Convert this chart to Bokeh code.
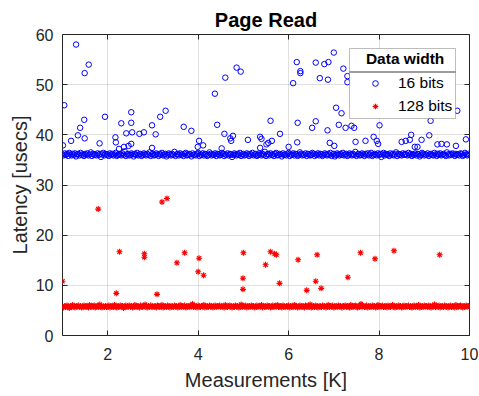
import numpy as np
from bokeh.plotting import figure
from bokeh.models import (Range1d, FixedTicker, Legend, LegendItem, BoxAnnotation,
                          LinearAxis, CustomJSTickFormatter, ColumnDataSource)
from bokeh.embed import file_html
from bokeh.resources import INLINE

# ---------------- data ----------------
title_text = "Page Read"
x_label = "Measurements [K]"
y_label = "Latency [usecs]"
legend_title = "Data width"
series_names = ["16 bits", "128 bits"]
x_ticks = [2, 4, 6, 8, 10]
y_ticks = [0, 10, 20, 30, 40, 50, 60]

# dense baseline measurements (sampled every 0.025 K)
blue_band = [
    36.1, 35.9, 36.3, 36.0, 36.2, 35.8, 36.4, 36.1, 35.9, 36.2, 36.0, 36.3, 35.7, 36.1, 36.2, 35.9, 36.4, 36.0, 36.1,
    35.8, 36.2, 36.0, 36.3, 35.9, 36.1, 36.5, 35.8, 36.2, 36.0, 36.1, 35.9, 36.3, 36.0, 36.2, 35.6, 36.1, 36.4, 35.9,
    36.2, 36.0, 36.1, 35.8, 36.3, 36.0, 36.2, 35.9, 36.1, 36.4, 35.8, 36.0, 36.2, 36.1, 35.9, 36.3, 36.0, 36.7, 35.8,
    36.1, 36.2, 35.9, 36.0, 36.3, 36.1, 35.7, 36.2, 36.0, 36.4, 35.9, 36.1, 36.2, 35.8, 36.0, 36.3, 36.1, 35.9, 36.2,
    36.0, 36.5, 35.8, 36.1, 36.2, 35.9, 36.0, 36.3, 36.1, 35.8, 36.2, 36.0, 36.4, 35.9, 36.1, 36.2, 35.7, 36.0, 36.3,
    36.1, 35.9, 36.2, 36.0, 36.6, 35.8, 36.1, 36.2, 35.9, 36.3, 36.0, 36.1, 35.8, 36.2, 36.4, 35.9, 36.0, 36.2, 36.1,
    35.7, 36.3, 36.0, 36.1, 35.9, 36.2, 36.4, 35.8, 36.1, 36.0, 36.3, 35.9, 36.2, 36.1, 35.8, 36.0, 36.5, 36.2, 35.9,
    36.1, 36.0, 36.3, 35.8, 36.2, 36.1, 35.9, 36.0, 36.4, 36.2, 35.8, 36.1, 36.0, 36.3, 35.9, 36.2, 36.1, 35.6, 36.0,
    36.3, 36.1, 35.9, 36.2, 36.0, 36.4, 35.8, 36.1, 36.2, 35.9, 36.0, 36.3, 36.1, 35.8, 36.2, 36.0, 36.4, 35.9, 36.1,
    36.2, 35.8, 36.0, 36.3, 36.1, 35.9, 36.2, 36.0, 36.6, 35.8, 36.1, 36.2, 35.9, 36.3, 36.0, 36.1, 35.8, 36.2, 36.4,
    35.9, 36.0, 36.2, 36.1, 35.7, 36.3, 36.0, 36.1, 35.9, 36.2, 36.4, 35.8, 36.1, 36.0, 36.3, 35.9, 36.2, 36.1, 35.8,
    36.0, 36.5, 36.2, 35.9, 36.1, 36.0, 36.3, 35.8, 36.2, 36.1, 35.9, 36.0, 36.4, 36.2, 35.8, 36.1, 36.0, 36.3, 35.9,
    36.2, 36.1, 35.8, 36.0, 36.3, 36.1, 35.9, 36.2, 36.0, 36.4, 35.8, 36.1, 36.2, 35.7, 36.0, 36.3, 36.1, 35.9, 36.2,
    36.0, 36.4, 35.9, 36.1, 36.2, 35.8, 36.0, 36.3, 36.1, 35.9, 36.2, 36.0, 36.6, 35.8, 36.1, 36.2, 35.9, 36.0, 36.3,
    36.1, 35.8, 36.2, 36.0, 36.3, 35.9, 36.1, 36.4, 35.8, 36.0, 36.2, 36.1, 35.9, 36.3, 36.0, 36.2, 35.6, 36.1, 36.4,
    35.9, 36.2, 36.0, 36.1, 35.8, 36.3, 36.0, 36.2, 35.9, 36.1, 36.5, 35.8, 36.2, 36.0, 36.1, 35.9, 36.3, 36.0, 36.2,
    36.1, 35.9, 36.4, 36.0, 36.2, 35.8, 36.1, 36.0, 36.3, 35.9, 36.2, 36.1, 35.7, 36.0, 36.4, 36.2, 35.9, 36.1, 36.0,
    36.3, 35.8, 36.1, 36.2, 36.0, 35.9, 36.4, 36.1, 35.8, 36.2, 36.0, 36.3, 35.9, 36.1, 36.2, 36.0, 35.8, 36.5, 36.1,
    35.9, 36.2, 36.0, 36.3, 36.1, 35.8, 36.2, 36.0, 36.1, 35.9, 36.3, 36.2, 35.8, 36.0, 36.4, 36.1, 35.9, 36.2, 36.0,
]
red_band = [
    5.8, 5.6, 5.9, 5.7, 6.0, 5.8, 5.5, 5.9, 5.7, 6.1, 5.8, 5.6, 5.9, 5.8, 6.0, 5.7, 5.9, 5.6, 5.8,
    6.0, 5.7, 5.9, 5.8, 5.6, 6.1, 5.8, 5.7, 5.9, 6.0, 5.6, 5.8, 5.9, 5.7, 6.2, 5.8, 5.6, 5.9, 5.7,
    5.9, 5.7, 5.8, 6.0, 5.6, 5.9, 5.8, 5.7, 6.1, 5.8, 5.6, 5.9, 5.7, 6.0, 5.8, 5.9, 5.5, 5.8, 6.0,
    5.7, 5.8, 6.0, 5.7, 5.9, 5.6, 5.8, 6.1, 5.7, 5.9, 5.8, 5.6, 6.0, 5.8, 5.7, 5.9, 6.2, 5.8, 5.6,
    5.9, 5.7, 6.0, 5.8, 5.7, 5.9, 5.8, 5.6, 6.0, 5.9, 5.7, 5.8, 6.1, 5.6, 5.8, 5.9, 5.7, 6.0, 5.8,
    5.6, 5.9, 5.8, 5.7, 6.0, 5.8, 5.9, 5.6, 5.8, 6.1, 5.7, 5.9, 5.8, 6.0, 5.6, 5.8, 5.9, 5.7, 6.0,
    5.8, 6.3, 5.7, 5.9, 5.8, 5.6, 6.0, 5.8, 5.7, 5.9, 5.8, 6.1, 5.6, 5.9, 5.8, 5.7, 6.0, 5.8, 5.9,
    5.6, 5.8, 6.0, 5.7, 5.9, 5.8, 6.0, 5.7, 5.9, 5.8, 5.6, 6.1, 5.8, 5.7, 5.9, 6.0, 5.8, 5.6, 5.9,
    5.7, 6.0, 5.8, 5.9, 5.6, 5.8, 6.2, 5.7, 5.9, 5.8, 6.0, 5.6, 5.8, 5.9, 5.7, 6.0, 5.8, 5.9, 5.6,
    5.8, 6.0, 5.7, 5.9, 5.8, 6.1, 5.6, 5.9, 5.8, 5.7, 6.0, 5.8, 5.9, 5.6, 5.8, 6.0, 5.7, 5.9, 5.8,
    6.1, 5.7, 5.8, 5.9, 5.6, 6.0, 5.8, 5.7, 5.9, 5.8, 6.0, 5.6, 5.9, 5.8, 5.7, 6.1, 5.8, 5.9, 5.6,
    5.8, 6.0, 5.7, 5.9, 5.8, 5.6, 6.0, 5.9, 5.7, 5.8, 6.2, 5.6, 5.8, 5.9, 5.7, 6.0, 5.8, 5.6, 5.9,
    5.8, 5.7, 6.0, 5.8, 5.9, 5.6, 5.8, 6.1, 5.7, 5.9, 5.8, 6.0, 5.6, 5.8, 5.9, 5.7, 6.0, 5.8, 5.9,
    5.6, 5.9, 5.8, 6.0, 5.7, 5.9, 5.8, 5.6, 6.1, 5.8, 5.7, 5.9, 6.0, 5.8, 5.6, 5.9, 5.7, 6.3, 5.8,
    5.9, 5.7, 5.8, 6.0, 5.6, 5.9, 5.8, 5.7, 6.0, 5.8, 5.9, 5.6, 5.8, 6.1, 5.7, 5.9, 5.8, 6.0, 5.7,
    5.8, 5.9, 5.6, 6.0, 5.8, 5.7, 5.9, 6.1, 5.8, 5.6, 5.9, 5.7, 6.0, 5.8, 5.9, 5.6, 5.8, 6.0, 5.7,
    5.9, 5.8, 6.0, 5.7, 5.9, 5.6, 5.8, 6.0, 5.7, 5.9, 5.8, 6.1, 5.6, 5.8, 5.9, 5.7, 6.0, 5.8, 5.9,
    5.7, 6.0, 5.8, 5.6, 5.9, 5.8, 6.2, 5.7, 5.9, 5.8, 6.0, 5.6, 5.8, 5.9, 5.7, 6.0, 5.8, 5.9, 5.6,
    5.8, 6.0, 5.7, 5.9, 5.8, 5.6, 6.1, 5.8, 5.7, 5.9, 6.0, 5.8, 5.6, 5.9, 5.7, 6.0, 5.8, 5.9, 5.7,
]
blue_band_x = np.linspace(1.0, 10.0, len(blue_band))
red_band_x = np.linspace(1.0, 10.0, len(red_band))

# outlier measurements
blue_out_x = [1.01, 1.04, 1.19, 1.30, 1.34, 1.39, 1.48, 1.49, 1.49, 1.58, 1.82, 1.94, 2.17, 2.18, 2.25,
              2.30, 2.36, 2.41, 2.46, 2.52, 2.52, 2.52, 2.54, 2.70, 2.80, 2.98, 2.98, 3.06, 3.16, 3.28,
              3.68, 3.85, 3.99, 4.02, 4.11, 4.37, 4.42, 4.52, 4.58, 4.60, 4.71, 4.73, 4.77, 4.85, 4.94,
              5.10, 5.37, 5.37, 5.40, 5.51, 5.55, 5.60, 5.63, 5.81, 6.00, 6.10, 6.18, 6.19, 6.20, 6.26,
              6.26, 6.52, 6.60, 6.60, 6.69, 6.79, 6.86, 6.87, 6.88, 6.91, 7.00, 7.01, 7.05, 7.11, 7.17,
              7.21, 7.26, 7.30, 7.30, 7.39, 7.45, 7.48, 7.70, 7.88, 7.95, 7.98, 8.01, 8.50, 8.59, 8.68,
              8.71, 8.79, 8.85, 8.94, 9.11, 9.14, 9.29, 9.38, 9.50, 9.70, 9.73, 9.92]
blue_out_y = [37.9, 45.9, 38.8, 58.0, 39.9, 41.4, 43.0, 39.3, 52.3, 54.0, 38.3, 43.6, 39.5, 38.5, 37.2,
              42.3, 37.6, 40.3, 37.8, 44.5, 42.4, 38.2, 40.5, 40.2, 40.5, 41.9, 37.4, 40.1, 43.6, 44.8,
              41.6, 40.8, 37.6, 38.8, 37.9, 48.2, 42.0, 37.3, 40.2, 51.4, 39.3, 38.8, 39.8, 53.4, 52.6,
              39.0, 39.6, 37.4, 39.2, 38.1, 38.4, 42.8, 38.8, 40.2, 37.6, 50.3, 54.5, 38.5, 42.4, 52.7,
              52.3, 41.4, 54.4, 42.7, 51.3, 54.1, 40.9, 51.0, 54.5, 38.4, 56.4, 37.8, 45.4, 42.0, 44.3,
              53.2, 41.4, 51.7, 50.5, 41.8, 41.4, 38.6, 38.8, 39.6, 38.8, 38.2, 41.9, 38.6, 38.8, 39.0,
              40.0, 37.6, 37.6, 39.0, 39.9, 42.8, 38.1, 38.2, 38.1, 37.8, 44.8, 39.1]
red_out_x = [1.00, 1.79, 2.19, 2.26, 2.81, 2.81, 3.09, 3.20, 3.31, 3.53, 3.70, 4.00, 4.02, 4.12, 4.99,
             4.99, 5.00, 5.49, 5.60, 5.69, 5.73, 5.80, 6.21, 6.40, 6.60, 6.63, 6.72, 7.31, 7.59, 7.91,
             8.33, 9.34]
red_out_y = [10.8, 25.2, 8.4, 16.7, 16.3, 15.6, 8.2, 26.6, 27.3, 14.5, 16.5, 12.7, 15.4, 12.0, 11.4,
             9.2, 16.5, 14.1, 16.7, 16.3, 16.1, 10.4, 15.1, 9.0, 10.8, 16.1, 9.4, 11.6, 16.5, 15.3,
             16.9, 16.1]

# ---------------- figure ----------------
FONT = "Liberation Sans"
AX = "#262626"
X0, X1, Y0, Y1 = 1, 10, 0, 60
FRAME_W, FRAME_H = 479 - 62 - 10, 396 - 34 - 61

p = figure(width=479, height=396, output_backend="svg", toolbar_location=None,
           x_range=Range1d(X0, X1), y_range=Range1d(Y0, Y1),
           min_border_left=62, min_border_right=10, min_border_top=34, min_border_bottom=61)
p.background_fill_color = "white"
p.border_fill_color = "white"
p.outline_line_color = AX
p.outline_line_width = 1

p.title.text = title_text
p.title.align = "center"
p.title.text_font = FONT
p.title.text_font_size = "20px"
p.title.text_font_style = "bold"
p.title.text_color = "#000000"
p.title.standoff = 7

for ax in (p.xaxis[0], p.yaxis[0]):
    ax.axis_line_color = None
    ax.major_tick_in = 5
    ax.major_tick_out = 0
    ax.minor_tick_line_color = None
    ax.major_tick_line_color = AX
    ax.major_label_text_font = FONT
    ax.major_label_text_font_size = "16px"
    ax.major_label_text_color = AX
    ax.axis_label_text_font = FONT
    ax.axis_label_text_font_size = "20px"
    ax.axis_label_text_font_style = "normal"
    ax.axis_label_text_color = AX

p.xaxis.ticker = FixedTicker(ticks=x_ticks)
p.yaxis.ticker = FixedTicker(ticks=y_ticks)
p.xaxis.axis_label = x_label
p.yaxis.axis_label = y_label
p.xaxis.major_label_standoff = 12
p.xaxis.axis_label_standoff = 6
p.yaxis.major_label_standoff = 9
p.yaxis.axis_label_standoff = 2

# mirrored ticks on top and right
for loc, tk in (("above", x_ticks), ("right", y_ticks)):
    a = LinearAxis(ticker=FixedTicker(ticks=tk),
                   formatter=CustomJSTickFormatter(code="return ''"),
                   axis_line_color=None, major_tick_in=5, major_tick_out=0,
                   major_tick_line_color=AX, minor_tick_line_color=None,
                   major_label_standoff=0, major_label_text_font_size="1px")
    p.add_layout(a, loc)

p.grid.grid_line_color = AX
p.grid.grid_line_alpha = 0.15

blue_src = ColumnDataSource(dict(x=list(blue_band_x) + blue_out_x, y=blue_band + blue_out_y))
red_src = ColumnDataSource(dict(x=list(red_band_x) + red_out_x, y=red_band + red_out_y))

r_blue = p.scatter("x", "y", source=blue_src, marker="circle", size=5.5, fill_color=None,
                   line_color="#0000ff", line_width=1.0)
r_red = p.scatter("x", "y", source=red_src, marker="asterisk", size=6,
                  line_color="#ff0000", line_width=1.1)


# helpers converting frame-pixel offsets (from frame left / frame top) to data units
def fx(px):
    return X0 + (X1 - X0) * px / FRAME_W


def fy(py):
    return Y1 - (Y1 - Y0) * py / FRAME_H


# opaque legend box (frame px 287..393 wide, 14..84 tall) and title separator
box = BoxAnnotation(left=fx(287), right=fx(393), top=fy(14), bottom=fy(84),
                    fill_color="white", fill_alpha=1.0, line_color=AX, line_width=1)
p.add_layout(box)
sep = BoxAnnotation(left=fx(287), right=fx(393), top=fy(37), bottom=fy(38),
                    fill_color=AX, fill_alpha=0.9, line_color=None)
p.add_layout(sep)

NB = "\u00a0"
legend = Legend(items=[LegendItem(label=series_names[0], renderers=[r_blue]),
                       LegendItem(label=series_names[1], renderers=[r_red])],
                location="top_right", margin=16, padding=2, spacing=5,
                glyph_height=14, glyph_width=44, label_height=18, label_width=55,
                label_standoff=1, label_text_font=FONT, label_text_font_size="15.5px",
                label_text_color="#000000",
                title=NB * 3 + legend_title, title_text_font=FONT, title_text_font_size="15.5px",
                title_text_font_style="bold", title_text_color="#000000", title_standoff=6,
                border_line_color=None, background_fill_alpha=0.0)
p.add_layout(legend)

open("out.html", "w").write(file_html(p, INLINE))
